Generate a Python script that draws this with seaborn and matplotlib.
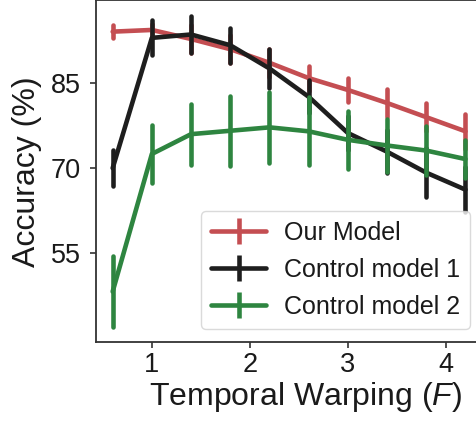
import numpy as np
import pandas as pd
import matplotlib
matplotlib.use("Agg")
import matplotlib.pyplot as plt
from matplotlib.lines import Line2D
import seaborn as sns

# ---- data ----
warping = [0.6, 1.0, 1.4, 1.8, 2.2, 2.6, 3.0, 3.4, 3.8, 4.2]
series_names = ["Our Model", "Control model 1", "Control model 2"]

our_mean = [94.0, 94.3, 92.7, 90.9, 88.5, 85.8, 83.7, 81.4, 78.9, 76.4]
our_err = [1.1, 1.0, 2.5, 2.5, 2.5, 2.2, 2.2, 2.4, 2.5, 3.1]

ctrl1_mean = [69.9, 92.9, 93.5, 91.6, 87.5, 82.5, 76.1, 72.8, 69.1, 66.1]
ctrl1_err = [3.2, 3.1, 3.3, 3.1, 3.5, 2.9, 3.0, 3.8, 4.3, 4.0]

ctrl2_mean = [48.1, 72.4, 75.9, 76.5, 77.1, 76.4, 74.9, 73.9, 73.0, 71.5]
ctrl2_err = [6.2, 5.1, 5.4, 6.2, 6.3, 6.0, 5.1, 4.7, 4.4, 3.3]

colors = ["#C44E52", "#1e1e1e", "#2e8540"]

# long-form table: each point as (mean - err, mean, mean + err);
# mean estimator gives the mean, the full percentile interval gives +/- err
rows = []
for name, means, errs in zip(series_names,
                             [our_mean, ctrl1_mean, ctrl2_mean],
                             [our_err, ctrl1_err, ctrl2_err]):
    for x, m, e in zip(warping, means, errs):
        for v in (m - e, m, m + e):
            rows.append({"F": x, "Accuracy": v, "Model": name})
df = pd.DataFrame(rows)

sns.set_theme(style="ticks")
plt.rcParams["font.family"] = ["Liberation Sans", "DejaVu Sans"]
plt.rcParams["mathtext.fontset"] = "custom"
plt.rcParams["mathtext.it"] = "Liberation Sans:italic"
plt.rcParams["mathtext.rm"] = "Liberation Sans"

W, H = 476, 425
fig = plt.figure(figsize=(W / 100, H / 100), dpi=100)
ax = fig.add_axes([96 / W, 83 / H, 382.2 / W, 341.5 / H])

sns.lineplot(data=df, x="F", y="Accuracy", hue="Model", hue_order=series_names,
             palette=colors, estimator="mean", errorbar=("pi", 100),
             err_style="bars", linewidth=3.3,
             err_kws={"elinewidth": 3.3, "capsize": 0}, legend=False, ax=ax)

ax.set_xlim(0.43, 4.33)
ax.set_ylim(39.2, 99.5)
ax.set_xticks([1, 2, 3, 4])
ax.set_yticks([55, 70, 85])

for sp in ax.spines.values():
    sp.set_linewidth(1.3)
    sp.set_color("#333333")

ax.tick_params(axis="both", labelsize=19.5, length=4.5, width=1.2,
               color="#333333", labelcolor="#1a1a1a")
ax.tick_params(axis="x", pad=2.5)
ax.tick_params(axis="y", pad=6.5)

ax.set_xlabel("Temporal Warping ($\\mathit{F}$)", fontsize=23, color="#1a1a1a")
ax.set_ylabel("Accuracy (%)", fontsize=23, color="#1a1a1a")
ax.xaxis.set_label_coords(0.549, -0.11)
ax.yaxis.set_label_coords(-0.14, 0.5)

handles = [Line2D([0], [0], color=c, lw=3.3, marker="|", markersize=19,
                  markeredgewidth=3.3) for c in colors]
leg = ax.legend(handles, series_names, loc="lower right",
                bbox_to_anchor=(0.9785, 0.038), borderaxespad=0,
                fontsize=18, handlelength=2.2, handletextpad=0.7,
                labelspacing=0.52, borderpad=0.4, frameon=True,
                fancybox=True, framealpha=0.8, edgecolor="0.82")
for t in leg.get_texts():
    t.set_color("#1a1a1a")

fig.savefig("out.png", dpi=100)
